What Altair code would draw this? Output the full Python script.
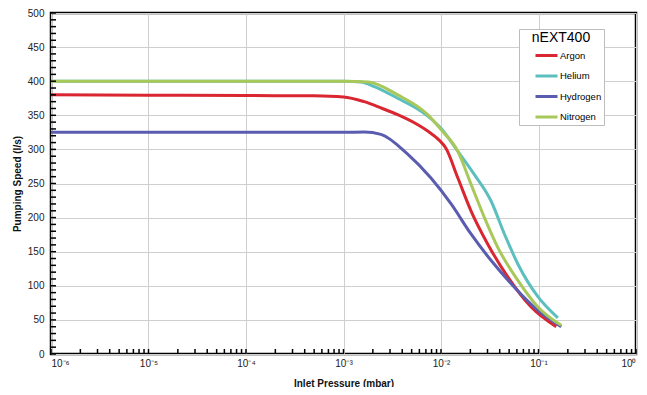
import altair as alt
import pandas as pd

# ---- data (pressure in mbar, speed in l/s) ----
argon_p = [1e-6, 1e-5, 1e-4, 5e-4, 1e-3, 1.63e-3, 2.5e-3, 3.59e-3, 5.5e-3, 7.3e-3, 0.0095, 0.0112, 0.0149, 0.0203, 0.0302, 0.0484, 0.0841, 0.152]
argon_v = [380, 379.5, 379, 378.5, 377, 370, 360, 351, 338, 327, 314, 302, 258, 210, 161, 113, 69, 40]

helium_p = [1e-6, 1e-4, 1e-3, 1.51e-3, 2.07e-3, 3.59e-3, 6.24e-3, 0.01, 0.0149, 0.022, 0.0327, 0.0447, 0.0614, 0.0986, 0.158]
helium_v = [400, 400, 400, 399, 392, 375, 356, 331, 297, 263, 224, 176, 132, 84, 53]

hydrogen_p = [1e-6, 1e-4, 1e-3, 1.63e-3, 2.42e-3, 4.55e-3, 7.89e-3, 0.0127, 0.0203, 0.0327, 0.0566, 0.0986, 0.171]
hydrogen_v = [325, 325, 325, 325.5, 322, 293, 258, 220, 176, 137, 98, 64, 40]

nitrogen_p = [1e-6, 1e-4, 1e-3, 1.8e-3, 3.59e-3, 7.3e-3, 0.01, 0.0149, 0.0203, 0.0279, 0.0383, 0.0614, 0.0986, 0.171]
nitrogen_v = [400, 400, 400, 399, 380, 351, 329, 297, 249, 200, 156, 108, 69, 42]

gas_names = ["Argon", "Helium", "Hydrogen", "Nitrogen"]
gas_colors = ["#d92630", "#5cbfbf", "#5a5cb0", "#a8c85a"]

x_tick_values = [1e-6, 1e-5, 1e-4, 1e-3, 1e-2, 1e-1, 1]
x_tick_labels = ["10⁻⁶", "10⁻⁵", "10⁻⁴", "10⁻³", "10⁻²", "10⁻¹", "10⁰"]
y_tick_values = [0, 50, 100, 150, 200, 250, 300, 350, 400, 450, 500]
y_minor_values = list(range(0, 501, 10))
x_minor_values = [m * 10.0 ** e for e in range(-6, 0) for m in range(1, 10)] + [1.0]

series = [("Argon", argon_p, argon_v), ("Helium", helium_p, helium_v),
          ("Hydrogen", hydrogen_p, hydrogen_v), ("Nitrogen", nitrogen_p, nitrogen_v)]
rows = []
for name, ps, vs in series:
    for p, v in zip(ps, vs):
        rows.append({"gas": name, "p": p, "v": v})
df = pd.DataFrame(rows)

FONT = "Liberation Sans"
W, H = 585, 341

label_expr = "[" + ",".join("'%s'" % l for l in x_tick_labels) + "][round(log(datum.value)/LN10)+6]"

xscale = alt.Scale(type="log", domain=[1e-6, 1], nice=False)
yscale = alt.Scale(domain=[0, 500], nice=False)

x_axis = alt.Axis(values=x_tick_values, labelExpr=label_expr, title="Inlet Pressure (mbar)",
                  grid=True, gridColor="#cfcfcf", gridWidth=1, domain=False, ticks=False, tickSize=0,
                  labelFont=FONT, labelFontSize=10, labelColor="#222", labelPadding=4,
                  labelOverlap=False,
                  titleFont=FONT, titleFontSize=10, titleFontWeight="bold", titleColor="#111",
                  titlePadding=10)
y_axis = alt.Axis(values=y_tick_values, title="Pumping Speed (l/s)",
                  grid=True, gridColor="#cfcfcf", gridWidth=1, domain=False, ticks=False, tickSize=0,
                  labelFont=FONT, labelFontSize=10, labelColor="#222", labelPadding=7,
                  labelOverlap=False,
                  titleFont=FONT, titleFontSize=10, titleFontWeight="bold", titleColor="#111",
                  titlePadding=5)

legend_label_expr = "datum.label + '" + "\u00a0" * 12 + "'"

lines = alt.Chart(df).mark_line(strokeWidth=3, interpolate="monotone").encode(
    x=alt.X("p:Q", scale=xscale, axis=x_axis),
    y=alt.Y("v:Q", scale=yscale, axis=y_axis),
    color=alt.Color("gas:N", scale=alt.Scale(domain=gas_names, range=gas_colors),
                    legend=alt.Legend(title="nEXT400", orient="none", legendX=468, legendY=16,
                                      symbolType="stroke", symbolStrokeWidth=3, symbolSize=484,
                                      symbolOffset=13, labelOffset=1, labelExpr=legend_label_expr,
                                      fillColor="white", strokeColor="#bdbdbd", padding=2,
                                      titleFont=FONT, titleFontSize=14, titleFontWeight="normal",
                                      titleColor="black", titleAnchor="middle", titleAlign="center",
                                      titlePadding=-2,
                                      labelFont=FONT, labelFontSize=9.5, labelColor="black",
                                      rowPadding=1.5)),
)

xminor_df = pd.DataFrame({"p": x_minor_values})
xminor = alt.Chart(xminor_df).mark_rule(color="black", strokeWidth=1.5).encode(
    x=alt.X("p:Q", scale=xscale, axis=x_axis), y=alt.value(H), y2=alt.value(H - 5))

yminor_df = pd.DataFrame({"v": y_minor_values})
yminor = alt.Chart(yminor_df).mark_rule(color="black", strokeWidth=1.5).encode(
    y=alt.Y("v:Q", scale=yscale, axis=y_axis), x=alt.value(0), x2=alt.value(5))

chart = alt.layer(lines, xminor, yminor).properties(
    width=W, height=H,
    autosize=alt.AutoSizeParams(type="none"),
    padding={"left": 43, "top": 5, "right": 2, "bottom": 33},
).configure_view(stroke="black", strokeWidth=2.5)

chart.save("out.html", embed_options={"renderer": "svg", "actions": False})
